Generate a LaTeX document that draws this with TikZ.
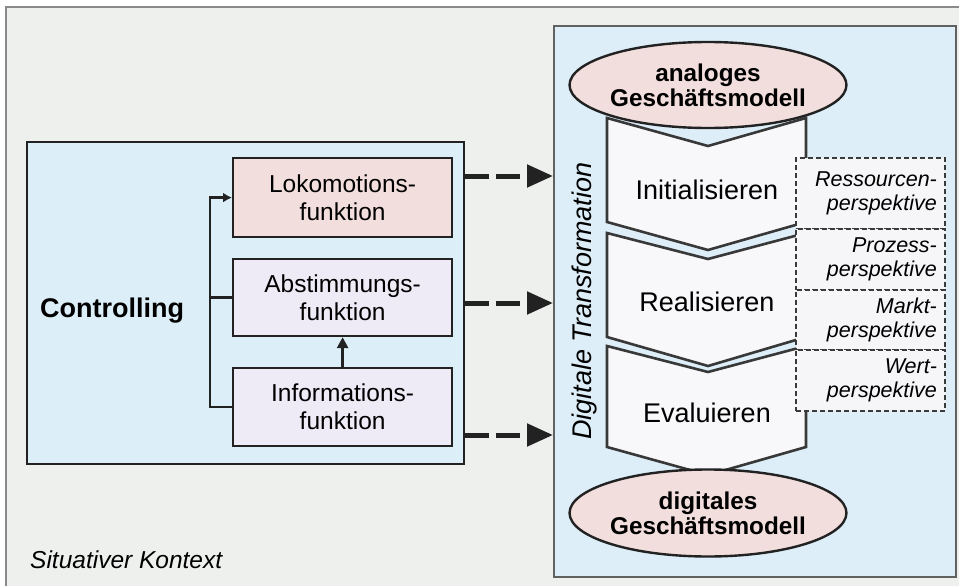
\documentclass[tikz,border=0pt]{standalone}
\usepackage{fontspec}
\setmainfont{Liberation Sans}
\usetikzlibrary{shapes.geometric,arrows.meta}
\definecolor{bgc}{HTML}{EEF0EE}
\definecolor{framec}{HTML}{8A8A8A}
\definecolor{ctrlfill}{HTML}{DCEEF8}
\definecolor{rfill}{HTML}{DDEEF8}
\definecolor{pinkc}{HTML}{F2DEDC}
\definecolor{lavc}{HTML}{EEEBF6}
\definecolor{chevc}{HTML}{F8F8FA}
\definecolor{perspc}{HTML}{F6F6F8}
\definecolor{linec}{HTML}{222222}
\definecolor{dashc}{HTML}{3A3A3A}
\begin{document}
\begin{tikzpicture}[x=1pt,y=-1pt,
  fbox/.style={draw=linec, line width=2.2pt, minimum width=219pt, anchor=north west,
    align=center, inner sep=0pt, font=\fontsize{24.5}{28}\selectfont},
  conn/.style={draw=linec, line width=2.6pt},
  darrow/.style={draw=linec, line width=5pt, dash pattern=on 24pt off 7pt,
    -{Triangle[length=26pt,width=22pt]}},
  chev/.style={fill=chevc, draw=linec!90, line width=2.6pt, line join=miter},
  ell/.style={ellipse, draw=linec, line width=2.4pt, fill=pinkc, inner sep=0pt,
    align=center, font=\fontsize{24.3}{25}\bfseries\selectfont},
  persp/.style={draw=dashc, line width=1.8pt, dash pattern=on 5pt off 3pt, fill=perspc,
    anchor=north west, minimum width=149pt, inner xsep=8pt, inner ysep=0pt,
    text width=133pt, align=right, font=\fontsize{21.5}{23.5}\itshape\selectfont},
  steplabel/.style={font=\fontsize{27}{30}\selectfont}
]
\useasboundingbox (0,0) rectangle (959,586);
\fill[white] (0,0) rectangle (959,586);
\draw[framec, line width=1.8pt, fill=bgc] (6,7) rectangle (975,600);

% Controlling box
\node[draw=linec, line width=2.2pt, fill=ctrlfill, minimum width=437pt, minimum height=322pt,
  anchor=north west, inner sep=0pt] (ctrl) at (26,141) {};
\node[anchor=base west, inner sep=0pt, font=\fontsize{27}{30}\bfseries\selectfont] (ctrltxt) at (40,317) {Controlling};

\node[fbox, fill=pinkc, minimum height=79pt] (loko) at (232,157) {Lokomotions-\\funktion};
\node[fbox, fill=lavc, minimum height=77pt] (abst) at (232,258) {Abstimmungs-\\funktion};
\node[fbox, fill=lavc, minimum height=78pt] (info) at (232,367) {Informations-\\funktion};

\draw[conn, -{Latex[length=9pt,width=10pt]}] (info.west) -- ++(-22,0) |- (loko.west);
\draw[conn] (abst.west) -- ++(-22,0);
\draw[conn, -{Triangle[length=11pt,width=11pt]}] (info.north) -- (abst.south);

% right box
\node[draw=framec!70!black, line width=1.8pt, fill=rfill, minimum width=402pt, minimum height=551pt,
  anchor=north west, inner sep=0pt] (rbox) at (553,25) {};

% dashed arrows
\coordinate (y1) at (0,176);
\coordinate (y2) at (0,303);
\coordinate (y3) at (0,435);
\draw[darrow] (ctrl.east |- y1) -- (rbox.west |- y1);
\draw[darrow] (ctrl.east |- y2) -- (rbox.west |- y2);
\draw[darrow] (ctrl.east |- y3) -- (rbox.west |- y3);

% chevrons
\filldraw[chev] (607,118) -- (708,146) -- (806,118) -- (806,222) -- (708,250) -- (607,222) -- cycle;
\filldraw[chev] (607,233) -- (708,259) -- (806,233) -- (806,337) -- (708,366) -- (607,337) -- cycle;
\filldraw[chev] (607,346) -- (708,372) -- (806,346) -- (806,447) -- (708,475) -- (607,447) -- cycle;

% ellipses
\node[ell, minimum width=249pt, minimum height=86pt] (analog) at (708,85) {analoges\\Geschäftsmodell};
\node[ell, minimum width=248pt, minimum height=87pt] (digital) at (708,513) {digitales\\Geschäftsmodell};

% perspective boxes
\node[persp, minimum height=71pt] (p1) at (795,157) {Ressourcen-\\perspektive};
\node[persp, minimum height=61pt] (p2) at (795,228) {Prozess-\\perspektive};
\node[persp, minimum height=60pt] (p3) at (795,289) {Markt-\\perspektive};
\node[persp, minimum height=61pt] (p4) at (795,349) {Wert-\\perspektive};

% step labels
\node[steplabel] (init) at (707,190) {Initialisieren};
\node[steplabel] (real) at (707,302) {Realisieren};
\node[steplabel] (eval) at (707,413) {Evaluieren};

% vertical label
\node[rotate=90, anchor=base, inner sep=0pt, font=\fontsize{27}{30}\itshape\selectfont] (dt) at (591,301) {Digitale Transformation};

\node[anchor=base west, inner sep=0pt, font=\fontsize{24.5}{28}\itshape\selectfont] (kontext) at (30,568) {Situativer Kontext};
\end{tikzpicture}
\end{document}
